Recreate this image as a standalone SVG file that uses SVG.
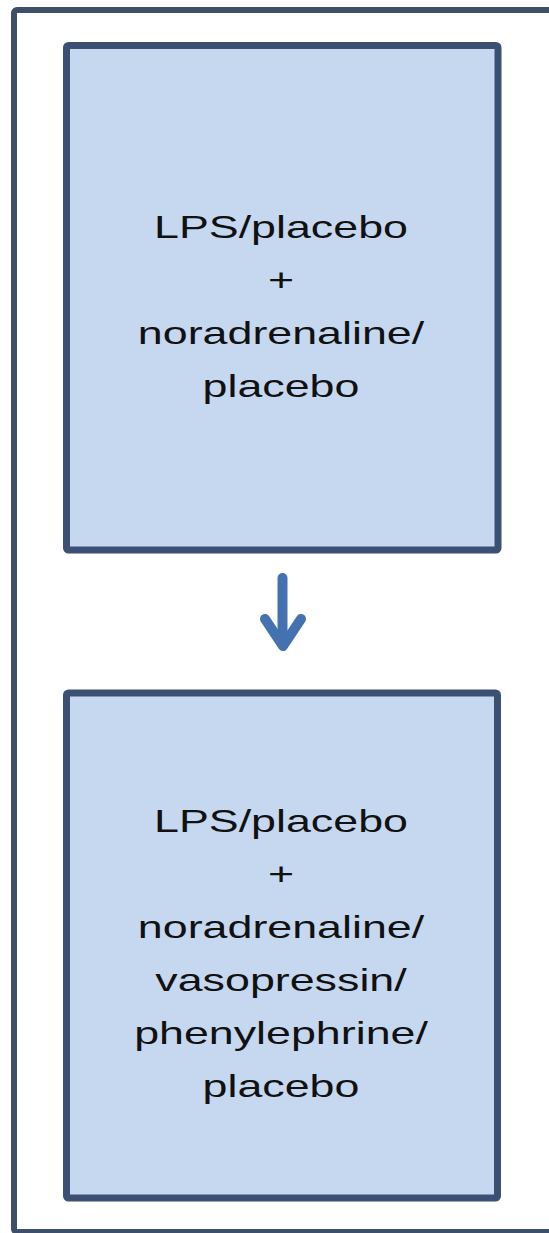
<svg xmlns="http://www.w3.org/2000/svg" width="549" height="1233" viewBox="0 0 549 1233">
<style>
.frame{fill:#ffffff;stroke:#3d4f6b;stroke-width:6}
.box{fill:#c6d8ef;stroke:#3c5074;stroke-width:7}
.lbl{font-family:"Liberation Sans",Arial,sans-serif;font-size:32px;fill:#111111;text-anchor:middle}
.arrow{fill:none;stroke:#4472b0;stroke-width:10;stroke-linecap:round;stroke-linejoin:round}
</style>
<rect width="549" height="1233" fill="#ffffff"/>
<rect class="frame" x="14" y="10" width="560" height="1222" rx="3"/>
<g id="node1">
<rect class="box" x="66.5" y="45.5" width="431.5" height="504.5" rx="2"/>
<g transform="translate(281,0) scale(1.4,1)">
<text class="lbl" x="0" y="238">LPS/placebo</text>
<text class="lbl" x="0" y="291">+</text>
<text class="lbl" x="0" y="344">noradrenaline/</text>
<text class="lbl" x="0" y="397">placebo</text>
</g>
</g>
<g id="node2">
<rect class="box" x="66.5" y="693" width="431" height="505" rx="2"/>
<g transform="translate(281,0) scale(1.4,1)">
<text class="lbl" x="0" y="832">LPS/placebo</text>
<text class="lbl" x="0" y="885">+</text>
<text class="lbl" x="0" y="938">noradrenaline/</text>
<text class="lbl" x="0" y="991">vasopressin/</text>
<text class="lbl" x="0" y="1044">phenylephrine/</text>
<text class="lbl" x="0" y="1097">placebo</text>
</g>
</g>
<g id="connectors">
<line class="arrow" x1="282.5" y1="578" x2="282.5" y2="645" stroke-linecap="butt"/>
<polyline class="arrow" points="265,619 283,646 301,619"/>
</g>
</svg>
